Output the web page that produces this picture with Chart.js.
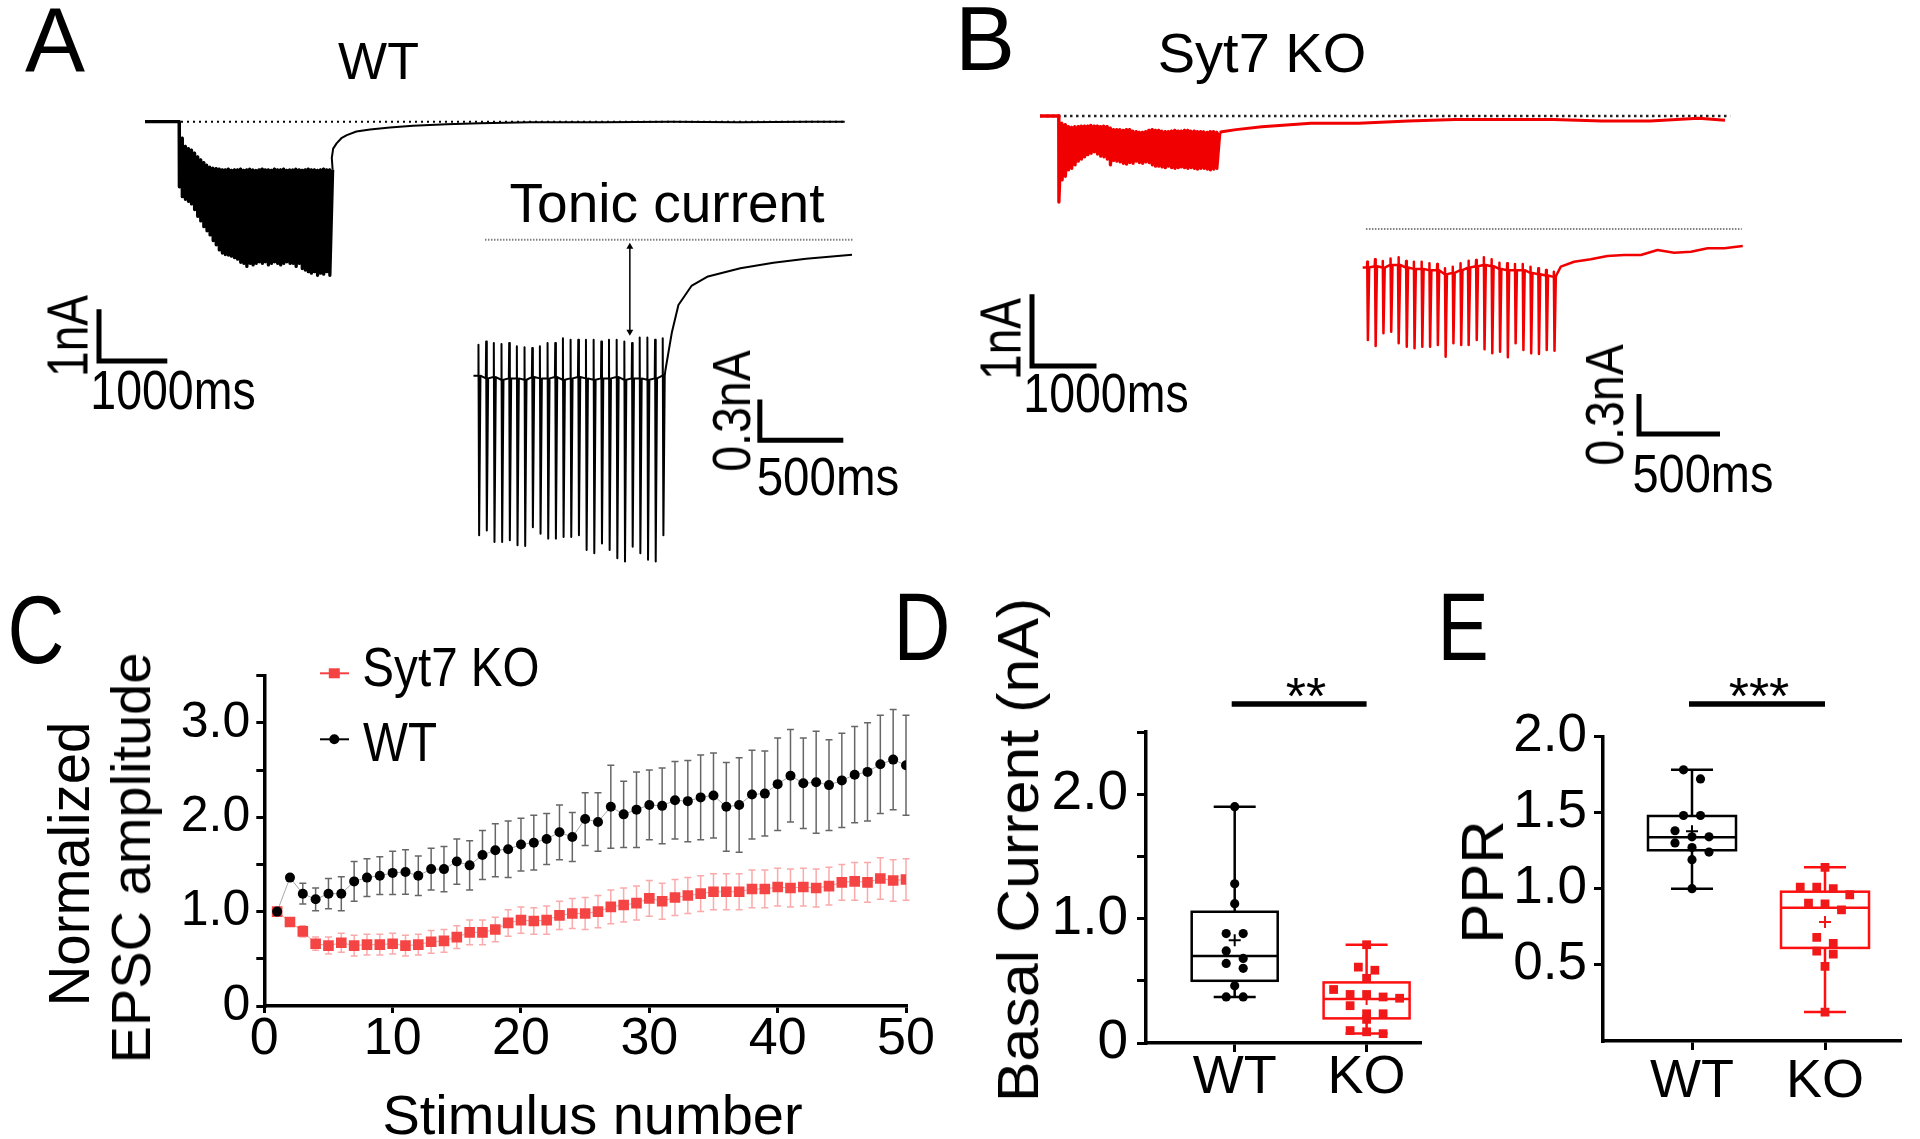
<!DOCTYPE html>
<html>
<head>
<meta charset="utf-8">
<script src="https://cdn.jsdelivr.net/npm/chart.js@4.4.1/dist/chart.umd.min.js"></script>
<style>
  body { margin: 0; background: #fff; }
  #fig { position: relative; width: 1920px; height: 1139px; overflow: hidden; font-family: "Liberation Sans", Arial, sans-serif; }
  #fig canvas { position: absolute; }
  .t { position: absolute; white-space: nowrap; line-height: 1; color: #000; }
</style>
</head>
<body>
<div id="fig"></div>
<script>
// ---------- Panel C: normalized EPSC amplitude per stimulus ----------
const stimulus = [1,2,3,4,5,6,7,8,9,10,11,12,13,14,15,16,17,18,19,20,21,22,23,24,25,
                  26,27,28,29,30,31,32,33,34,35,36,37,38,39,40,41,42,43,44,45,46,47,48,49,50];
const wtAmp = [1.00,1.36,1.19,1.13,1.19,1.19,1.32,1.36,1.38,1.41,1.42,1.38,1.45,1.45,1.53,1.49,1.60,1.65,1.66,1.71,
               1.73,1.77,1.84,1.79,1.98,1.95,2.11,2.03,2.08,2.13,2.12,2.18,2.17,2.21,2.23,2.11,2.13,2.24,2.25,2.35,
               2.44,2.36,2.37,2.34,2.39,2.45,2.48,2.56,2.61,2.55];
const wtSem = [0,0.03,0.11,0.12,0.16,0.18,0.21,0.20,0.20,0.23,0.235,0.21,0.22,0.24,0.24,0.26,0.26,0.28,0.30,0.28,
               0.29,0.27,0.29,0.26,0.28,0.31,0.44,0.35,0.40,0.37,0.40,0.41,0.43,0.45,0.45,0.47,0.50,0.47,0.45,0.49,
               0.49,0.48,0.54,0.48,0.50,0.51,0.52,0.52,0.53,0.53];
const koAmp = [1.00,0.89,0.79,0.66,0.64,0.67,0.64,0.65,0.65,0.66,0.64,0.65,0.68,0.69,0.73,0.78,0.78,0.81,0.88,0.91,
               0.90,0.91,0.96,0.98,0.98,1.00,1.05,1.07,1.09,1.14,1.11,1.15,1.17,1.19,1.21,1.21,1.21,1.24,1.24,1.26,
               1.25,1.26,1.25,1.27,1.31,1.32,1.31,1.35,1.33,1.34];
const koSem = [0,0.03,0.06,0.07,0.09,0.10,0.11,0.11,0.11,0.11,0.11,0.11,0.12,0.12,0.12,0.13,0.13,0.13,0.14,0.14,
               0.14,0.15,0.15,0.16,0.17,0.17,0.18,0.18,0.18,0.19,0.19,0.19,0.19,0.19,0.19,0.19,0.19,0.20,0.20,0.20,
               0.20,0.20,0.20,0.20,0.19,0.20,0.21,0.22,0.22,0.22];

// ---------- Panels D and E: individual cells ----------
const groups = ['WT', 'KO'];
const basalWT = [1.90,1.28,1.12,0.88,0.88,0.74,0.68,0.64,0.60,0.46,0.37,0.37];
const basalKO = [0.79,0.61,0.585,0.52,0.43,0.39,0.39,0.37,0.36,0.30,0.235,0.235,0.19,0.10,0.09,0.075];
const pprWT = [1.78,1.72,1.48,1.48,1.38,1.34,1.34,1.30,1.27,1.24,1.19,1.00];
const pprKO = [1.14,1.01,1.01,1.00,0.96,0.905,0.90,0.86,0.68,0.64,0.59,0.57,0.49,0.19];
// box: min, Q1, median, Q3, max
const basalBoxWT = [0.37,0.50,0.70,1.055,1.90];
const basalBoxKO = [0.076,0.198,0.354,0.487,0.79];
const pprBoxWT = [1.00,1.252,1.338,1.477,1.78];
const pprBoxKO = [0.19,0.611,0.875,0.98,1.14];

// ---------- Panel A traces (nA, ms) ----------
const aStimMs = 45, aPreMs = 500;
const aTonic = [-0.32,-0.48,-0.52,-0.55,-0.61,-0.68,-0.74,-0.79,-0.84,-0.88,-0.90,-0.91,-0.92,-0.93,-0.93,-0.92,-0.94,
                -0.93,-0.93,-0.92,-0.94,-0.93,-0.92,-0.93,-0.94,-0.93,-0.92,-0.93,-0.93,-0.94,-0.92,-0.93,-0.93,-0.92,
                -0.94,-0.93,-0.93,-0.92,-0.93,-0.94,-0.93,-0.92,-0.93,-0.93,-0.94,-0.93,-0.92,-0.93,-0.93,-0.93];
const aPeak = [-1.26,-1.45,-1.50,-1.54,-1.59,-1.70,-1.83,-1.92,-2.03,-2.11,-2.19,-2.30,-2.38,-2.48,-2.54,-2.57,-2.58,
               -2.60,-2.63,-2.66,-2.72,-2.74,-2.80,-2.74,-2.77,-2.74,-2.71,-2.74,-2.71,-2.77,-2.74,-2.71,-2.74,-2.77,
               -2.74,-2.71,-2.74,-2.74,-2.80,-2.74,-2.84,-2.87,-2.90,-2.93,-2.90,-2.97,-2.93,-2.95,-2.90,-2.97];
const aRecMs = [30,50,100,170,250,390,590,880,1220,1710,2200,2930,4000,5000,6000,7000,7540];
const aRecNA = [-0.70,-0.52,-0.42,-0.32,-0.26,-0.19,-0.15,-0.11,-0.08,-0.05,-0.03,-0.01,-0.01,0,-0.01,0,0];

const aInsetStimMs = 46, aInsetFirstMs = 30;
const aInsetBase = [-1.00,-1.02,-1.01,-1.03,-1.02,-1.02,-1.03,-1.01,-1.02,-1.02,-1.01,-1.03,-1.02,-1.01,-1.02,-1.03,
                    -1.02,-1.02,-1.01,-1.03,-1.02,-1.02,-1.03,-1.02,-1.00];
const aInsetTip = [-0.772,-0.748,-0.760,-0.767,-0.760,-0.784,-0.791,-0.796,-0.784,-0.760,-0.760,-0.724,-0.736,-0.736,
                   -0.736,-0.736,-0.748,-0.736,-0.736,-0.748,-0.760,-0.719,-0.719,-0.736,-0.724];
const aInsetPeak = [-2.175,-2.139,-2.223,-2.223,-2.211,-2.247,-2.254,-2.115,-2.163,-2.199,-2.199,-2.187,-2.187,-2.175,
                    -2.283,-2.307,-2.235,-2.283,-2.343,-2.367,-2.259,-2.307,-2.355,-2.367,-2.175];
const aInsetRecMs = [16,55,94,172,271,465,663,859,1134];
const aInsetRecNA = [-0.96,-0.68,-0.48,-0.34,-0.27,-0.21,-0.17,-0.14,-0.11];
const tonicArrowNA = [-0.052, -0.676];

// ---------- Panel B traces (nA, ms) ----------
const bStimMs = 50, bPreMs = 290;
const bTonic = [-0.10,-0.12,-0.15,-0.16,-0.15,-0.15,-0.14,-0.14,-0.14,-0.13,-0.14,-0.14,-0.15,-0.14,-0.15,-0.17,-0.19,
                -0.19,-0.19,-0.20,-0.19,-0.19,-0.21,-0.22,-0.23,-0.23,-0.22,-0.20,-0.19,-0.20,-0.20,-0.21,-0.22,-0.22,
                -0.21,-0.20,-0.21,-0.21,-0.20,-0.20,-0.21,-0.21,-0.22,-0.22,-0.22,-0.23,-0.22,-0.22,-0.23,-0.23];
const bPeak = [-1.20,-0.89,-0.84,-0.75,-0.73,-0.68,-0.63,-0.60,-0.57,-0.54,-0.52,-0.50,-0.53,-0.56,-0.57,-0.60,-0.68,
               -0.62,-0.63,-0.64,-0.66,-0.67,-0.65,-0.66,-0.63,-0.65,-0.66,-0.64,-0.65,-0.68,-0.70,-0.70,-0.71,-0.72,
               -0.70,-0.72,-0.73,-0.72,-0.71,-0.72,-0.73,-0.72,-0.73,-0.74,-0.73,-0.73,-0.74,-0.75,-0.74,-0.73];
const bRecMs = [80,300,700,1460,2200,2970,3700,4470,5220,5970,6720,7470,7880];
const bRecNA = [-0.22,-0.19,-0.15,-0.10,-0.10,-0.07,-0.05,-0.05,-0.05,-0.07,-0.07,-0.03,-0.06];

const bInsetStimMs = 48, bInsetFirstMs = 28;
const bInsetBase = [-0.29,-0.28,-0.29,-0.27,-0.27,-0.29,-0.30,-0.30,-0.31,-0.31,-0.34,-0.33,-0.31,-0.29,-0.28,-0.27,
                    -0.28,-0.30,-0.31,-0.31,-0.31,-0.33,-0.34,-0.35,-0.36];
const bInsetTip = [-0.246,-0.228,-0.241,-0.221,-0.213,-0.241,-0.246,-0.246,-0.258,-0.263,-0.296,-0.283,-0.258,-0.238,
                   -0.233,-0.213,-0.228,-0.253,-0.258,-0.263,-0.263,-0.283,-0.296,-0.308,-0.321];
const bInsetPeak = [-0.835,-0.88,-0.784,-0.772,-0.859,-0.885,-0.897,-0.885,-0.885,-0.872,-0.96,-0.859,-0.872,-0.872,
                    -0.835,-0.905,-0.935,-0.923,-0.965,-0.859,-0.91,-0.935,-0.94,-0.91,-0.915];
const bInsetRecMs = [16,43,125,228,331,434,537,640,743,846,949,1052,1166];
const bInsetRecNA = [-0.346,-0.283,-0.246,-0.228,-0.203,-0.195,-0.195,-0.158,-0.178,-0.171,-0.145,-0.145,-0.128];

// scale bars: [nA, ms]
const bigBar = [1, 1000];
const smallBar = [0.3, 500];

// ======================================================================
const FONT = '"Liberation Sans", Arial, sans-serif';
Chart.defaults.font.family = FONT;
Chart.defaults.color = '#000';
const fig = document.getElementById('fig');

function addCanvas(box) {
  const c = document.createElement('canvas');
  c.width = box.width; c.height = box.height;
  c.style.left = box.left + 'px'; c.style.top = box.top + 'px';
  c.style.width = box.width + 'px'; c.style.height = box.height + 'px';
  fig.appendChild(c);
  return c;
}

function addText(str, cx, cy, size, opt) {
  opt = opt || {};
  const el = document.createElement('div');
  el.className = 't';
  el.textContent = str;
  el.style.fontSize = size + 'px';
  el.style.left = cx + 'px';
  el.style.top = cy + 'px';
  let tf = 'translate(-50%,-50%)';
  if (opt.rotate) tf += ' rotate(' + opt.rotate + 'deg)';
  if (opt.sx) tf += ' scaleX(' + opt.sx + ')';
  el.style.transform = tf;
  fig.appendChild(el);
}

const baseOptions = {
  responsive: false, animation: false, devicePixelRatio: 1, events: [],
  plugins: { legend: { display: false }, tooltip: { enabled: false } }
};

// ---------- trace helpers ----------
// each EPSC: fast drop to its peak, decay back to the tonic level before the next stimulus
function trainPoints(preMs, stimMs, tonic, peak) {
  const pts = [{ x: 0, y: 0 }];
  let level = 0;
  tonic.forEach((tn, i) => {
    const t = preMs + i * stimMs;
    pts.push({ x: t, y: level }, { x: t + 3, y: peak[i] }, { x: t + stimMs - 3, y: tn });
    level = tn;
  });
  return pts;
}
function recoveryPoints(tLast, lastLevel, recMs, recNA) {
  const pts = [{ x: tLast, y: lastLevel }];
  recMs.forEach((r, k) => pts.push({ x: tLast + r, y: recNA[k] }));
  return pts;
}

function insetPoints(firstMs, stimMs, base, tip, peak, recMs, recNA) {
  const pts = [{ x: 0, y: base[0] }];
  base.forEach((b, i) => {
    const t = firstMs + i * stimMs;
    pts.push({ x: t - 2, y: b }, { x: t, y: tip[i] }, { x: t + 4, y: peak[i] }, { x: t + 12, y: b });
  });
  const tLast = firstMs + (base.length - 1) * stimMs;
  recMs.forEach((r, k) => pts.push({ x: tLast + r, y: recNA[k] }));
  return pts;
}

// origin: page position of (0 ms, 0 nA); px: pixels per ms / per nA
function traceChart(box, origin, px, datasets) {
  const x0 = origin.x - box.left, y0 = origin.y - box.top;
  return new Chart(addCanvas(box), {
    type: 'line',
    data: { datasets },
    options: Object.assign({}, baseOptions, {
      layout: { padding: 0 },
      elements: { point: { radius: 0 }, line: { tension: 0, borderJoinStyle: 'round' } },
      scales: {
        x: { type: 'linear', display: false, min: -x0 / px.ms, max: (box.width - x0) / px.ms },
        y: { type: 'linear', display: false, min: -(box.height - y0) / px.nA, max: y0 / px.nA }
      }
    })
  });
}

function scaleBarSet(corner, origin, px, bar) {
  const t = (corner.x - origin.x) / px.ms, v = -(corner.y - origin.y) / px.nA;
  return { data: [{ x: t, y: v + bar[0] }, { x: t, y: v }, { x: t + bar[1], y: v }],
           borderColor: '#000', borderWidth: 5, borderJoinStyle: 'miter', borderCapStyle: 'butt' };
}

function dotted(t0, t1, color, width, dash) {
  return { data: [{ x: t0, y: 0 }, { x: t1, y: 0 }], borderColor: color, borderWidth: width, borderDash: dash };
}

// ---------- Panel A ----------
{
  const box = { left: 60, top: 100, width: 820, height: 280 };
  const origin = { x: 145, y: 121.7 }, px = { ms: 0.0683, nA: 51.7 };
  const tLast = aPreMs + (aTonic.length - 1) * aStimMs;
  const tEnd = tLast + aRecMs[aRecMs.length - 1];
  traceChart(box, origin, px, [
    { data: trainPoints(aPreMs, aStimMs, aTonic, aPeak), borderColor: '#000', borderWidth: 3.3 },
    { data: recoveryPoints(tLast + aStimMs - 3, aTonic[aTonic.length - 1], aRecMs.map(r => r - aStimMs + 3), aRecNA),
      borderColor: '#000', borderWidth: 2 },
    dotted(0, tEnd, '#000', 2, [2, 4]),
    scaleBarSet({ x: 99, y: 361 }, origin, px, bigBar)
  ]);
}
{
  const box = { left: 440, top: 225, width: 440, height: 360 };
  const origin = { x: 470, y: 236 }, px = { ms: 0.17, nA: 139 };
  traceChart(box, origin, px, [
    { data: insetPoints(aInsetFirstMs, aInsetStimMs, aInsetBase, aInsetTip, aInsetPeak, aInsetRecMs, aInsetRecNA),
      borderColor: '#000', borderWidth: 2 },
    dotted(69, 2275, '#808080', 2, [1.5, 1.5]),
    { data: [{ x: 937, y: tonicArrowNA[0] }, { x: 937, y: tonicArrowNA[1] }], borderColor: '#000', borderWidth: 1.5,
      pointStyle: 'triangle', pointRadius: 4, pointRotation: [0, 180], pointBackgroundColor: '#000', pointBorderWidth: 0 },
    scaleBarSet({ x: 761.7, y: 441 }, origin, px, smallBar)
  ]);
}

// ---------- Panel B ----------
{
  const box = { left: 1000, top: 100, width: 760, height: 290 };
  const origin = { x: 1040, y: 116 }, px = { ms: 0.0645, nA: 71.7 };
  const tLast = bPreMs + (bTonic.length - 1) * bStimMs;
  traceChart(box, origin, px, [
    { data: trainPoints(bPreMs, bStimMs, bTonic, bPeak), borderColor: '#f00000', borderWidth: 3.3 },
    { data: recoveryPoints(tLast + bStimMs - 3, bTonic[bTonic.length - 1], bRecMs.map(r => r - bStimMs + 3), bRecNA),
      borderColor: '#f00000', borderWidth: 3 },
    dotted(0, 10700, '#222', 2.5, [2.5, 3.5]),
    scaleBarSet({ x: 1032, y: 366 }, origin, px, bigBar)
  ]);
}
{
  const box = { left: 1340, top: 210, width: 420, height: 250 };
  const origin = { x: 1362.7, y: 229 }, px = { ms: 0.162, nA: 133 };
  traceChart(box, origin, px, [
    { data: insetPoints(bInsetFirstMs, bInsetStimMs, bInsetBase, bInsetTip, bInsetPeak, bInsetRecMs, bInsetRecNA),
      borderColor: '#f00000', borderWidth: 2.5 },
    dotted(20, 2340, '#808080', 2, [1.5, 1.5]),
    scaleBarSet({ x: 1639, y: 434 }, origin, px, smallBar)
  ]);
}

// ---------- shared axis styling ----------
const axisGrid = tl => ({ display: true, drawOnChartArea: false, drawTicks: true, tickLength: tl, color: '#000', lineWidth: 3 });
const axisBorder = { display: true, color: '#000', width: 3.5 };

// ---------- Panel C ----------
{
  const box = { left: 140, top: 640, width: 800, height: 430 };
  const area = { left: 264.3, top: 675.6, right: 906, bottom: 1006 };
  const series = [
    { mean: wtAmp, sem: wtSem, color: 'rgba(0,0,0,0.6)', width: 1.5 },
    { mean: koAmp, sem: koSem, color: 'rgba(244,66,66,0.45)', width: 1.5 }
  ];
  const errorBars = {
    id: 'errorBars',
    beforeDatasetsDraw(chart) {
      const { ctx, scales: { x, y } } = chart;
      series.forEach(s => {
        ctx.save();
        ctx.strokeStyle = s.color; ctx.lineWidth = s.width;
        s.mean.forEach((m, i) => {
          const e = s.sem[i];
          if (!e) return;
          const px = x.getPixelForValue(stimulus[i]);
          const top = y.getPixelForValue(m + e), bot = y.getPixelForValue(m - e);
          ctx.beginPath();
          ctx.moveTo(px, top); ctx.lineTo(px, bot);
          ctx.moveTo(px - 3.5, top); ctx.lineTo(px + 3.5, top);
          ctx.moveTo(px - 3.5, bot); ctx.lineTo(px + 3.5, bot);
          ctx.stroke();
        });
        ctx.restore();
      });
    }
  };
  const legendMarks = {
    id: 'legendMarks',
    afterDraw(chart) {
      const ctx = chart.ctx;
      ctx.save();
      // Syt7 KO
      ctx.strokeStyle = '#f44242'; ctx.lineWidth = 2;
      ctx.beginPath(); ctx.moveTo(180, 33.3); ctx.lineTo(209, 33.3); ctx.stroke();
      ctx.fillStyle = '#f44242'; ctx.fillRect(194.3 - 5.5, 33.3 - 5, 11, 10);
      // WT
      ctx.strokeStyle = '#000';
      ctx.beginPath(); ctx.moveTo(180, 99.3); ctx.lineTo(209, 99.3); ctx.stroke();
      ctx.fillStyle = '#000'; ctx.beginPath(); ctx.arc(194.3, 99.3, 5, 0, Math.PI * 2); ctx.fill();
      ctx.restore();
    }
  };
  new Chart(addCanvas(box), {
    type: 'line',
    data: {
      datasets: [
        { label: 'WT', data: stimulus.map((n, i) => ({ x: n, y: wtAmp[i] })), borderColor: 'rgba(0,0,0,0.35)', borderWidth: 1,
          pointStyle: 'circle', pointRadius: 5, pointBackgroundColor: '#000', pointBorderWidth: 0 },
        { label: 'Syt7 KO', data: stimulus.map((n, i) => ({ x: n, y: koAmp[i] })), borderColor: 'rgba(244,66,66,0.5)', borderWidth: 1,
          pointStyle: 'rect', pointRadius: 7.5, pointBackgroundColor: '#f44444', pointBorderWidth: 0 }
      ]
    },
    options: Object.assign({}, baseOptions, {
      layout: { padding: { top: area.top - box.top, right: box.left + box.width - area.right, left: 0, bottom: 0 } },
      elements: { line: { tension: 0 } },
      scales: {
        x: { type: 'linear', min: 0, max: 50,
             afterFit: s => { s.height = box.top + box.height - area.bottom; },
             ticks: { stepSize: 10, autoSkip: false, maxRotation: 0, padding: 1, font: { size: 52, lineHeight: 1 } },
             grid: axisGrid(7), border: axisBorder },
        y: { type: 'linear', min: 0, max: 3.5,
             afterFit: s => { s.width = area.left - box.left; },
             ticks: { stepSize: 0.5, autoSkip: false, padding: 6, font: { size: 50, lineHeight: 1 },
                      callback: v => v === 0 ? '0' : (Math.abs(v - Math.round(v)) < 1e-9 ? v.toFixed(1) : '') },
             grid: axisGrid(8), border: axisBorder }
      }
    }),
    plugins: [errorBars, legendMarks]
  });
}

// ---------- box + swarm helpers (D, E) ----------
function swarm(values, center, pxPerY, pxPerX, binPx, gapPx) {
  const order = values.map((v, i) => i).sort((a, b) => values[b] - values[a]);
  const xs = [];
  let k = 0;
  while (k < order.length) {
    const top = values[order[k]];
    const bin = [order[k++]];
    while (k < order.length && (top - values[order[k]]) * pxPerY < binPx) bin.push(order[k++]);
    bin.forEach((idx, j) => { xs[idx] = center + (j - (bin.length - 1) / 2) * gapPx / pxPerX; });
  }
  return xs;
}
const mean = a => a.reduce((s, v) => s + v, 0) / a.length;

function boxPlugin(boxes, colors, halfW, capW, sigPx) {
  return {
    id: 'boxes',
    beforeDatasetsDraw(chart) {
      const { ctx, scales: { x, y } } = chart;
      boxes.forEach((b, i) => {
        const cx = x.getPixelForValue(i + 1);
        const [ymn, yq1, ymd, yq3, ymx] = b.map(v => y.getPixelForValue(v));
        ctx.save();
        ctx.strokeStyle = colors[i]; ctx.lineWidth = 2.5;
        ctx.strokeRect(cx - halfW, yq3, 2 * halfW, yq1 - yq3);
        ctx.beginPath();
        ctx.moveTo(cx - halfW, ymd); ctx.lineTo(cx + halfW, ymd);
        ctx.moveTo(cx, yq3); ctx.lineTo(cx, ymx);
        ctx.moveTo(cx, yq1); ctx.lineTo(cx, ymn);
        ctx.moveTo(cx - capW, ymx); ctx.lineTo(cx + capW, ymx);
        ctx.moveTo(cx - capW, ymn); ctx.lineTo(cx + capW, ymn);
        ctx.stroke();
        ctx.restore();
      });
    },
    afterDraw(chart) {
      const { ctx, scales: { x } } = chart;
      ctx.save();
      ctx.strokeStyle = '#000'; ctx.lineWidth = 5.5; ctx.lineCap = 'butt';
      ctx.beginPath(); ctx.moveTo(x.getPixelForValue(1) - 3, sigPx); ctx.lineTo(x.getPixelForValue(2), sigPx); ctx.stroke();
      ctx.restore();
    }
  };
}

function dotPlotChart(cfg) {
  const { box, area, cat, yMin, yMax, wt, ko, boxWT, boxKO, yTicks } = cfg;
  const k = cat[1] - cat[0];
  const xMin = 1 - (cat[0] - area.left) / k, xMax = 2 + (area.right - cat[1]) / k;
  const pxPerY = (area.bottom - area.top) / (yMax - yMin);
  const wtX = swarm(wt, 1, pxPerY, k, 9.5, 17);
  const koX = swarm(ko, 2, pxPerY, k, 9.5, 16.5);
  const red = '#f01818';
  return new Chart(addCanvas(box), {
    type: 'scatter',
    data: {
      datasets: [
        { data: [{ x: 1, y: mean(wt) }], pointStyle: 'cross', pointRadius: 6, pointBorderColor: '#000', pointBorderWidth: 2 },
        { data: [{ x: 2, y: mean(ko) }], pointStyle: 'cross', pointRadius: 6, pointBorderColor: red, pointBorderWidth: 2 },
        { data: wt.map((v, i) => ({ x: wtX[i], y: v })), pointStyle: 'circle', pointRadius: 4.6, pointBackgroundColor: '#000', pointBorderWidth: 0 },
        { data: ko.map((v, i) => ({ x: koX[i], y: v })), pointStyle: 'rect', pointRadius: 6.2, pointBackgroundColor: red, pointBorderWidth: 0 }
      ]
    },
    options: Object.assign({}, baseOptions, {
      layout: { padding: { top: area.top - box.top, right: box.left + box.width - area.right, left: 0, bottom: 0 } },
      scales: {
        x: { type: 'linear', min: xMin, max: xMax,
             afterFit: s => { s.height = box.top + box.height - area.bottom; },
             afterBuildTicks: s => { s.ticks = [{ value: 1 }, { value: 2 }]; },
             ticks: { autoSkip: false, maxRotation: 0, padding: cfg.xPad, font: { size: 54, lineHeight: 1 },
                      callback: v => groups[Math.round(v) - 1] },
             grid: axisGrid(9), border: axisBorder },
        y: { type: 'linear', min: yMin, max: yMax,
             afterFit: s => { s.width = area.left - box.left; },
             afterBuildTicks: s => { s.ticks = yTicks.map(v => ({ value: v })); },
             ticks: { autoSkip: false, padding: cfg.yPad, font: { size: cfg.yFont, lineHeight: 1 }, callback: cfg.yLabel },
             grid: axisGrid(9), border: axisBorder }
      }
    }),
    plugins: [boxPlugin([boxWT, boxKO], ['#000', '#ff1010'], cfg.halfW, 21, 704 - box.top)]
  });
}

// ---------- Panel D ----------
dotPlotChart({
  box: { left: 1040, top: 640, width: 400, height: 499 },
  area: { left: 1146, top: 732, right: 1420, bottom: 1043 },
  cat: [1234.7, 1366.6], yMin: 0, yMax: 2.5,
  yTicks: [0, 0.5, 1, 1.5, 2, 2.5],
  yLabel: v => v === 0 ? '0' : (Math.abs(v - Math.round(v)) < 1e-9 ? v.toFixed(1) : ''),
  yFont: 55, yPad: 9, xPad: -1, halfW: 43,
  wt: basalWT, ko: basalKO, boxWT: basalBoxWT, boxKO: basalBoxKO
});

// ---------- Panel E ----------
dotPlotChart({
  box: { left: 1450, top: 640, width: 470, height: 499 },
  area: { left: 1603, top: 736.3, right: 1900, bottom: 1041 },
  cat: [1692, 1825], yMin: 0, yMax: 2.0,
  yTicks: [0.5, 1, 1.5, 2],
  yLabel: v => v.toFixed(1),
  yFont: 53, yPad: 7, xPad: 5, halfW: 44,
  wt: pprWT, ko: pprKO, boxWT: pprBoxWT, boxKO: pprBoxKO
});

// ---------- text ----------
addText('A', 55, 40, 90);
addText('WT', 378.5, 61, 52);
addText('Tonic current', 667, 202.5, 55);
addText('1nA', 67.5, 336, 57, { rotate: -90, sx: 0.81 });
addText('1000ms', 172.5, 390, 56, { sx: 0.83 });
addText('0.3nA', 731, 411, 54, { rotate: -90, sx: 0.86 });
addText('500ms', 828, 476, 54, { sx: 0.88 });

addText('B', 985, 39, 90);
addText('Syt7 KO', 1262, 53, 56);
addText('1nA', 1001, 339, 57, { rotate: -90, sx: 0.81 });
addText('1000ms', 1105.7, 393, 56, { sx: 0.83 });
addText('0.3nA', 1604, 405, 54, { rotate: -90, sx: 0.86 });
addText('500ms', 1703, 472.5, 54, { sx: 0.87 });

addText('C', 36, 630, 96, { sx: 0.82 });
addText('Syt7 KO', 451, 666.7, 56, { sx: 0.85 });
addText('WT', 400, 741.7, 56, { sx: 0.85 });
addText('Normalized', 69, 864, 58, { rotate: -90, sx: 0.97 });
addText('EPSC amplitude', 131, 858, 56, { rotate: -90 });
addText('Stimulus number', 592.5, 1114.5, 56);

addText('D', 922, 627, 96, { sx: 0.82 });
addText('Basal Current (nA)', 1017.5, 850, 58, { rotate: -90, sx: 1.05 });
addText('**', 1306, 695.5, 52);

addText('E', 1463, 627, 96, { sx: 0.8 });
addText('PPR', 1483, 882, 60, { rotate: -90 });
addText('***', 1759, 696, 52);
</script>
</body>
</html>
